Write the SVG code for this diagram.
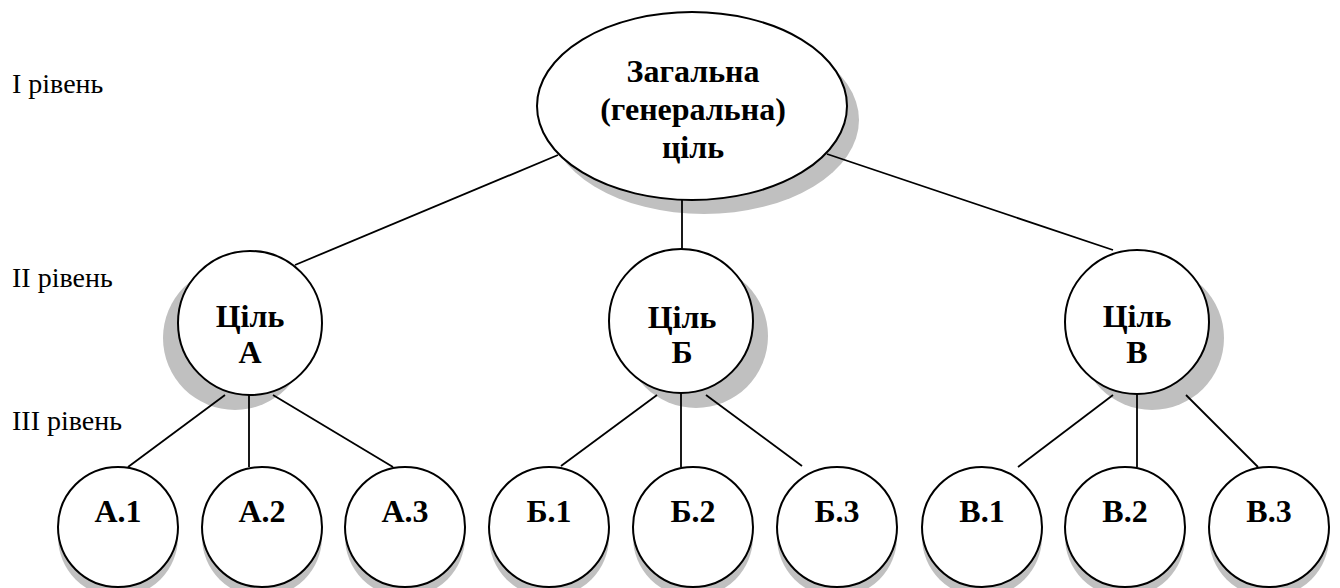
<svg xmlns="http://www.w3.org/2000/svg" width="1340" height="588" viewBox="0 0 1340 588">
<style>
.sh{fill:#c0c0c0;stroke:none}
.nd{fill:#fff;stroke:#000;stroke-width:2}
.t{font-family:'Liberation Serif',Tinos,'Times New Roman','DejaVu Serif',serif;font-weight:bold;font-size:32px;text-anchor:middle;fill:#000}
.lv{font-family:'Liberation Serif',Tinos,'Times New Roman','DejaVu Serif',serif;font-size:28px;fill:#000}
.c line{stroke:#000;stroke-width:1.8}
</style>
<rect width="1340" height="588" fill="#fff"/>
<g id="levels">
<text class="lv" x="12" y="93">I рівень</text>
<text class="lv" x="12" y="287">II рівень</text>
<text class="lv" x="12" y="430">III рівень</text>
</g>
<g id="goal">
<ellipse class="sh" cx="704" cy="120" rx="155" ry="94"/>
<ellipse class="nd" cx="692" cy="106" rx="155" ry="94"/>
<text class="t" x="693" y="82">Загальна</text>
<text class="t" x="693" y="120">(генеральна)</text>
<text class="t" x="693" y="158">ціль</text>
</g>
<g id="goalA">
<circle class="sh" cx="235" cy="338" r="72"/>
<circle class="nd" cx="250" cy="323" r="72"/>
<text class="t" x="250" y="327">Ціль</text>
<text class="t" x="250" y="363">А</text>
</g>
<g id="goalB">
<circle class="sh" cx="696" cy="336" r="72"/>
<circle class="nd" cx="681" cy="321" r="72"/>
<text class="t" x="682" y="328">Ціль</text>
<text class="t" x="682" y="363">Б</text>
</g>
<g id="goalV">
<circle class="sh" cx="1152" cy="338" r="72"/>
<circle class="nd" cx="1137" cy="322" r="72"/>
<text class="t" x="1137" y="327">Ціль</text>
<text class="t" x="1137" y="363">В</text>
</g>
<g id="A1"><circle class="sh" cx="118" cy="537" r="60"/><circle class="nd" cx="118" cy="527" r="60"/><text class="t" x="118" y="522">А.1</text></g>
<g id="A2"><circle class="sh" cx="262" cy="537" r="60"/><circle class="nd" cx="262" cy="527" r="60"/><text class="t" x="262" y="522">А.2</text></g>
<g id="A3"><circle class="sh" cx="405" cy="537" r="60"/><circle class="nd" cx="405" cy="527" r="60"/><text class="t" x="405" y="522">А.3</text></g>
<g id="B1"><circle class="sh" cx="549" cy="537" r="60"/><circle class="nd" cx="549" cy="527" r="60"/><text class="t" x="549" y="522">Б.1</text></g>
<g id="B2"><circle class="sh" cx="693" cy="537" r="60"/><circle class="nd" cx="693" cy="527" r="60"/><text class="t" x="693" y="522">Б.2</text></g>
<g id="B3"><circle class="sh" cx="837" cy="537" r="60"/><circle class="nd" cx="837" cy="527" r="60"/><text class="t" x="837" y="522">Б.3</text></g>
<g id="V1"><circle class="sh" cx="982" cy="537" r="60"/><circle class="nd" cx="982" cy="527" r="60"/><text class="t" x="982" y="522">В.1</text></g>
<g id="V2"><circle class="sh" cx="1125" cy="537" r="60"/><circle class="nd" cx="1125" cy="527" r="60"/><text class="t" x="1125" y="522">В.2</text></g>
<g id="V3"><circle class="sh" cx="1269" cy="537" r="60"/><circle class="nd" cx="1269" cy="527" r="60"/><text class="t" x="1269" y="522">В.3</text></g>
<g id="connectors" class="c">
<line x1="558" y1="155" x2="295" y2="265"/>
<line x1="682" y1="200" x2="682" y2="249"/>
<line x1="827" y1="154" x2="1113" y2="250"/>
<line x1="225" y1="395" x2="128" y2="467"/>
<line x1="249" y1="395" x2="249" y2="467"/>
<line x1="273" y1="395" x2="393" y2="467"/>
<line x1="657" y1="395" x2="561" y2="466"/>
<line x1="681" y1="393" x2="681" y2="467"/>
<line x1="706" y1="395" x2="802" y2="466"/>
<line x1="1113" y1="395" x2="1018" y2="467"/>
<line x1="1137" y1="394" x2="1137" y2="467"/>
<line x1="1186" y1="395" x2="1258" y2="467"/>
</g>
</svg>
